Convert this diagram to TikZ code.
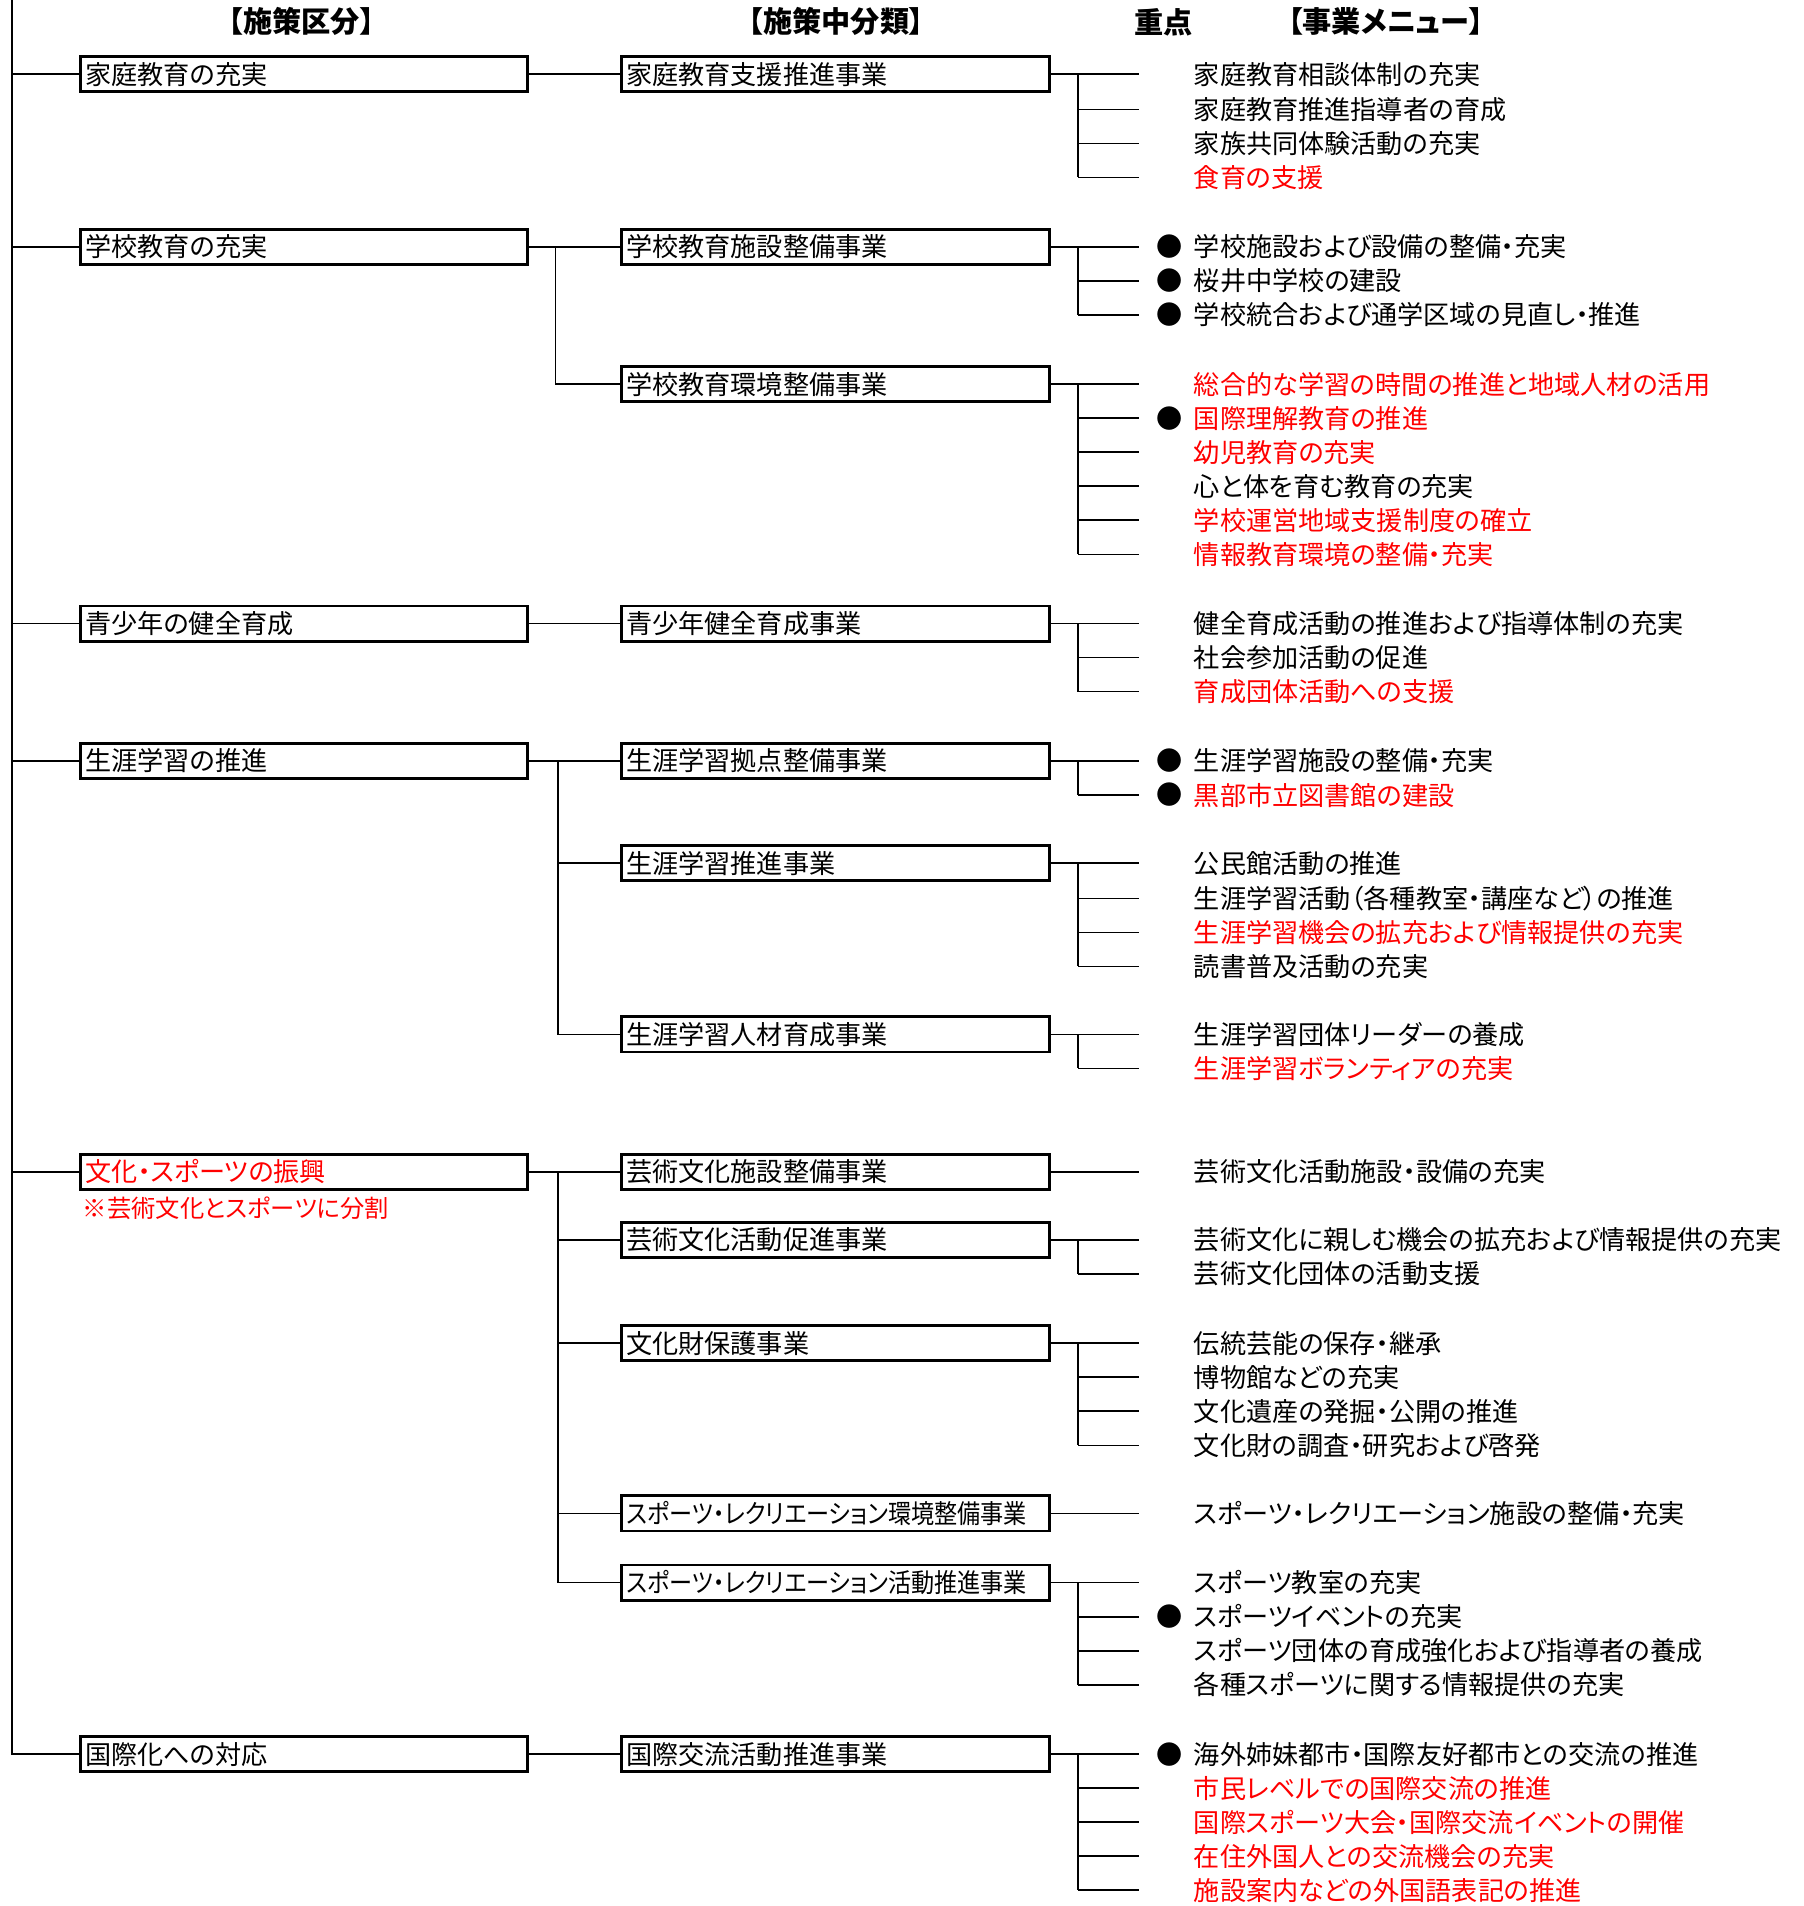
\documentclass[tikz,border=0pt]{standalone}
\usepackage{fontspec}
\setmainfont{Noto Sans CJK JP}[RawFeature=+palt]
\newcommand{\honbun}{\fontsize{21.5}{24}\selectfont}
\begin{document}
\begin{tikzpicture}[x=1pt, y=-1pt,
    sen/.style={line width=1.3pt},
    waku/.style={draw, line width=2.3pt, anchor=west, minimum height=29pt,
      inner xsep=4pt, inner ysep=0pt, text height=18.5pt, text depth=2pt,
      align=left, font=\honbun},
    kubun/.style={waku, text width=360pt},
    chubun/.style={waku, text width=344pt},
    menu/.style={anchor=west, inner sep=0pt, text height=18.5pt, text depth=2pt, font=\honbun},
    maru/.style={inner sep=0pt, font=\honbun},
    midashi/.style={inner sep=0pt, font=\bfseries\fontsize{24}{26}\selectfont}]
  \useasboundingbox (0,0) rectangle (1484,1568);

  % 見出し
  \node[midashi] (h1) at (248,18) {【施策区分】};
  \node[midashi] (h2) at (688,18) {【施策中分類】};
  \node[midashi] (h3) at (957,18) {重点};
  \node[midashi] (h4) at (1140,18) {【事業メニュー】};

  % 施策区分
  \node[kubun] (k1) at (65,61) {家庭教育の充実};
  \node[kubun] (k2) at (65,203) {学校教育の充実};
  \node[kubun] (k3) at (65,513) {青少年の健全育成};
  \node[kubun] (k4) at (65,626) {生涯学習の推進};
  \node[kubun, text=red] (k5) at (65,964) {文化・スポーツの振興};
  \node[kubun] (k6) at (65,1443) {国際化への対応};
  \node[menu, text=red, anchor=north west, font=\fontsize{20}{22}\selectfont] (chu) at (68,983) {※芸術文化とスポーツに分割};

  % 施策中分類
  \node[chubun] (s1) at (510,61) {家庭教育支援推進事業};
  \node[chubun] (s2) at (510,203) {学校教育施設整備事業};
  \node[chubun] (s3) at (510,316) {学校教育環境整備事業};
  \node[chubun] (s4) at (510,513) {青少年健全育成事業};
  \node[chubun] (s5) at (510,626) {生涯学習拠点整備事業};
  \node[chubun] (s6) at (510,710) {生涯学習推進事業};
  \node[chubun] (s7) at (510,851) {生涯学習人材育成事業};
  \node[chubun] (s8) at (510,964) {芸術文化施設整備事業};
  \node[chubun] (s9) at (510,1020) {芸術文化活動促進事業};
  \node[chubun] (s10) at (510,1105) {文化財保護事業};
  \node[chubun] (s11) at (510,1245) {\scalebox{0.885}[1]{スポーツ・レクリエーション環境整備事業}};
  \node[chubun] (s12) at (510,1302) {\scalebox{0.885}[1]{スポーツ・レクリエーション活動推進事業}};
  \node[chubun] (s13) at (510,1443) {国際交流活動推進事業};

  % 幹線
  \coordinate (top) at (10,0);
  \coordinate (bot) at (10,1443);
  \draw[sen] (top) -- (bot) -- (k6.west);
  \foreach \n in {1,...,5} \draw[sen] (k\n.west -| top) -- (k\n.west);

  % 施策区分 -> 施策中分類
  \draw[sen] (k1.east) -- (s1.west);
  \draw[sen] (k3.east) -- (s3.west |- k3.east) -- (s4.west);
  \draw[sen] (k6.east) -- (s13.west);
  \coordinate (g2) at (457,203);
  \coordinate (g3) at (457,316);
  \draw[sen] (k2.east) -- (s2.west);
  \draw[sen] (g2) -- (g3) -- (s3.west);
  \coordinate (g5) at (459,626);
  \coordinate (g6) at (459,710);
  \coordinate (g7) at (459,851);
  \draw[sen] (k4.east) -- (s5.west);
  \draw[sen] (g5) -- (g7) -- (s7.west);
  \draw[sen] (g6) -- (s6.west);
  \coordinate (g8) at (459,964);
  \coordinate (g12) at (459,1302);
  \draw[sen] (k5.east) -- (s8.west);
  \draw[sen] (g8) -- (g12) -- (s12.west);
  \foreach \n/\y in {9/1020,10/1105,11/1245} \draw[sen] (459,\y) -- (s\n.west);

  % 事業メニュー
  \foreach \y/\t/\c in {
      61/家庭教育相談体制の充実/black, 90/家庭教育推進指導者の育成/black,
      118/家族共同体験活動の充実/black, 146/食育の支援/red,
      203/学校施設および設備の整備・充実/black, 231/桜井中学校の建設/black,
      259/学校統合および通学区域の見直し・推進/black,
      316/総合的な学習の時間の推進と地域人材の活用/red, 344/国際理解教育の推進/red,
      372/幼児教育の充実/red, 400/心と体を育む教育の充実/black,
      428/学校運営地域支援制度の確立/red, 456/情報教育環境の整備・充実/red,
      513/健全育成活動の推進および指導体制の充実/black, 541/社会参加活動の促進/black,
      569/育成団体活動への支援/red,
      626/生涯学習施設の整備・充実/black, 654/黒部市立図書館の建設/red,
      710/公民館活動の推進/black, 739/生涯学習活動（各種教室・講座など）の推進/black,
      767/生涯学習機会の拡充および情報提供の充実/red, 795/読書普及活動の充実/black,
      851/生涯学習団体リーダーの養成/black, 879/生涯学習ボランティアの充実/red,
      964/芸術文化活動施設・設備の充実/black,
      1020/芸術文化に親しむ機会の拡充および情報提供の充実/black, 1048/芸術文化団体の活動支援/black,
      1105/伝統芸能の保存・継承/black, 1133/博物館などの充実/black,
      1161/文化遺産の発掘・公開の推進/black, 1189/文化財の調査・研究および啓発/black,
      1245/スポーツ・レクリエーション施設の整備・充実/black,
      1302/スポーツ教室の充実/black, 1330/スポーツイベントの充実/black,
      1358/スポーツ団体の育成強化および指導者の養成/black, 1386/各種スポーツに関する情報提供の充実/black,
      1443/海外姉妹都市・国際友好都市との交流の推進/black, 1471/市民レベルでの国際交流の推進/red,
      1499/国際スポーツ大会・国際交流イベントの開催/red, 1527/在住外国人との交流機会の充実/red,
      1555/施設案内などの外国語表記の推進/red} {
    \coordinate (b\y) at (887,\y);
    \coordinate (t\y) at (937,\y);
    \node[menu, text=\c] (m\y) at (982,\y) {\t};
    \draw[sen] (b\y) -- (t\y);
  }

  % 施策中分類 -> 事業メニュー
  \foreach \n/\y in {1/61,2/203,3/316,4/513,5/626,6/710,7/851,8/964,9/1020,10/1105,11/1245,12/1302,13/1443}
    \draw[sen] (s\n.east) -- (t\y);
  \draw[sen] (b61) -- (b146);
  \draw[sen] (b203) -- (b259);
  \draw[sen] (b316) -- (b456);
  \draw[sen] (b513) -- (b569);
  \draw[sen] (b626) -- (b654);
  \draw[sen] (b710) -- (b795);
  \draw[sen] (b851) -- (b879);
  \draw[sen] (b1020) -- (b1048);
  \draw[sen] (b1105) -- (b1189);
  \draw[sen] (b1302) -- (b1386);
  \draw[sen] (b1443) -- (b1555);

  % 重点
  \foreach \y in {203,231,259,344,626,654,1330,1443}
    \node[maru] (p\y) at (962,\y) {●};
\end{tikzpicture}
\end{document}
